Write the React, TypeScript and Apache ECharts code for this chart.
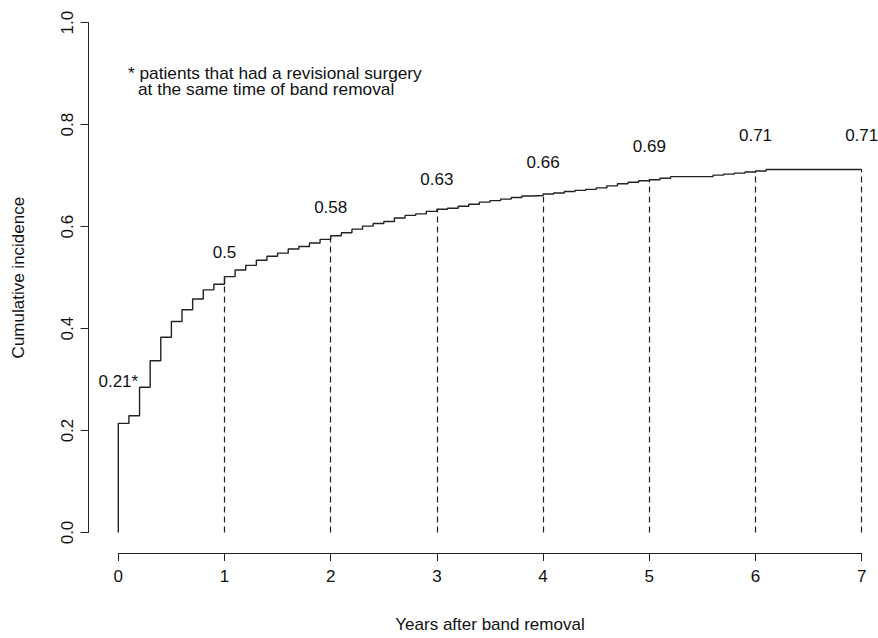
import React, { useEffect, useRef } from "react";
import * as echarts from "echarts";

// Step function (cumulative incidence) — value holds from time onward
const stepTimes = [
  0, 0, 0.1, 0.2, 0.3, 0.4, 0.5, 0.6, 0.7, 0.8, 0.9,
  1.0, 1.1, 1.2, 1.3, 1.4, 1.5, 1.6, 1.7, 1.8, 1.9,
  2.0, 2.1, 2.2, 2.3, 2.4, 2.5, 2.6, 2.7, 2.8, 2.9,
  3.0, 3.1, 3.2, 3.3, 3.4, 3.5, 3.6, 3.7, 3.8, 3.9,
  4.0, 4.1, 4.2, 4.3, 4.4, 4.5, 4.6, 4.7, 4.8, 4.9,
  5.0, 5.1, 5.2, 5.6, 5.7, 5.8, 5.9, 6.0, 6.1, 7.0,
];
const stepValues = [
  0, 0.214, 0.229, 0.285, 0.337, 0.383, 0.414, 0.437, 0.458, 0.476, 0.487,
  0.502, 0.515, 0.524, 0.534, 0.542, 0.548, 0.556, 0.561, 0.568, 0.575,
  0.582, 0.588, 0.595, 0.601, 0.606, 0.61, 0.617, 0.622, 0.625, 0.63,
  0.634, 0.636, 0.64, 0.644, 0.648, 0.651, 0.654, 0.657, 0.66, 0.661,
  0.664, 0.666, 0.669, 0.671, 0.673, 0.676, 0.68, 0.684, 0.687, 0.69,
  0.692, 0.695, 0.698, 0.701, 0.703, 0.705, 0.707, 0.709, 0.712, 0.712,
];

// Dashed reference lines at each year
const markYears = [1, 2, 3, 4, 5, 6, 7];

// Value annotations
const annotTexts = ["0.21*", "0.5", "0.58", "0.63", "0.66", "0.69", "0.71", "0.71"];
const annotX = [0, 1, 2, 3, 4, 5, 6, 7];
const annotY = [0.297, 0.549, 0.638, 0.692, 0.726, 0.758, 0.779, 0.779];

const noteLine1 = "* patients that had a revisional surgery";
const noteLine2 = "at the same time of band removal";

const FONT = "'Liberation Sans', Arial, Helvetica, sans-serif";
const INK = "#222";
const TXT = "#111";
const FS = 17;

function valueAt(t: number): number {
  let v = 0;
  for (let i = 0; i < stepTimes.length; i++) {
    if (stepTimes[i] <= t + 1e-9) v = stepValues[i];
  }
  return v;
}

export default function App() {
  const ref = useRef<HTMLDivElement>(null);
  useEffect(() => {
    if (!ref.current) return;
    const chart = echarts.init(ref.current, null, { renderer: "svg" });
    const stepData = stepTimes.map((t, i) => [t, stepValues[i]]);
    const markData = markYears.map((t) => [
      { coord: [t, 0] },
      { coord: [t, valueAt(t)] },
    ]);
    chart.setOption({
      animation: false,
      backgroundColor: "#fff",
      textStyle: { fontFamily: FONT },
      grid: { left: 118.3, right: 16.3, top: 22.7, bottom: 102.3 },
      xAxis: {
        type: "value",
        min: 0,
        max: 7,
        interval: 1,
        offset: 20.5,
        splitLine: { show: false },
        axisLine: { show: true, onZero: false, lineStyle: { color: INK, width: 1 } },
        axisTick: { show: true, length: 8, lineStyle: { color: INK } },
        axisLabel: { color: TXT, fontSize: FS, margin: 15, fontFamily: FONT },
        name: "Years after band removal",
        nameLocation: "middle",
        nameGap: 63,
        nameTextStyle: { color: TXT, fontSize: FS, fontFamily: FONT },
      },
      yAxis: {
        type: "value",
        min: 0,
        max: 1,
        interval: 0.2,
        offset: 29.7,
        splitLine: { show: false },
        axisLine: { show: true, onZero: false, lineStyle: { color: INK, width: 1 } },
        axisTick: { show: true, length: 8, lineStyle: { color: INK } },
        axisLabel: {
          color: TXT,
          fontSize: FS,
          margin: 13,
          rotate: 90,
          fontFamily: FONT,
          formatter: (v: number) => v.toFixed(1),
        },
        name: "Cumulative incidence",
        nameLocation: "middle",
        nameGap: 62,
        nameTextStyle: { color: TXT, fontSize: FS, fontFamily: FONT },
      },
      series: [
        {
          type: "line",
          step: "end",
          data: stepData,
          showSymbol: false,
          symbol: "none",
          lineStyle: { color: INK, width: 1.4 },
          markLine: {
            silent: true,
            symbol: ["none", "none"],
            label: { show: false },
            lineStyle: { color: INK, width: 1.2, type: [6, 4] },
            data: markData,
          },
        },
        {
          type: "scatter",
          data: annotX.map((x, i) => [x, annotY[i]]),
          symbolSize: 0,
          silent: true,
          itemStyle: { opacity: 1, color: "transparent" },
          label: {
            show: true,
            position: "inside",
            color: TXT,
            opacity: 1,
            fontSize: FS,
            fontFamily: FONT,
            formatter: (p: any) => annotTexts[p.dataIndex],
          },
        },
      ],
      graphic: [
        {
          type: "text",
          x: 128,
          y: 66,
          scaleX: 1.08,
          style: {
            text: noteLine1,
            fill: TXT,
            font: `16px ${FONT}`,
            textVerticalAlign: "top",
          },
        },
        {
          type: "text",
          x: 138,
          y: 82,
          scaleX: 1.08,
          style: {
            text: noteLine2,
            fill: TXT,
            font: `16px ${FONT}`,
            textVerticalAlign: "top",
          },
        },
      ],
    });
    return () => chart.dispose();
  }, []);
  return (
    <div
      ref={ref}
      style={{ position: "fixed", left: 0, top: 0, width: 878, height: 638 }}
    />
  );
}
